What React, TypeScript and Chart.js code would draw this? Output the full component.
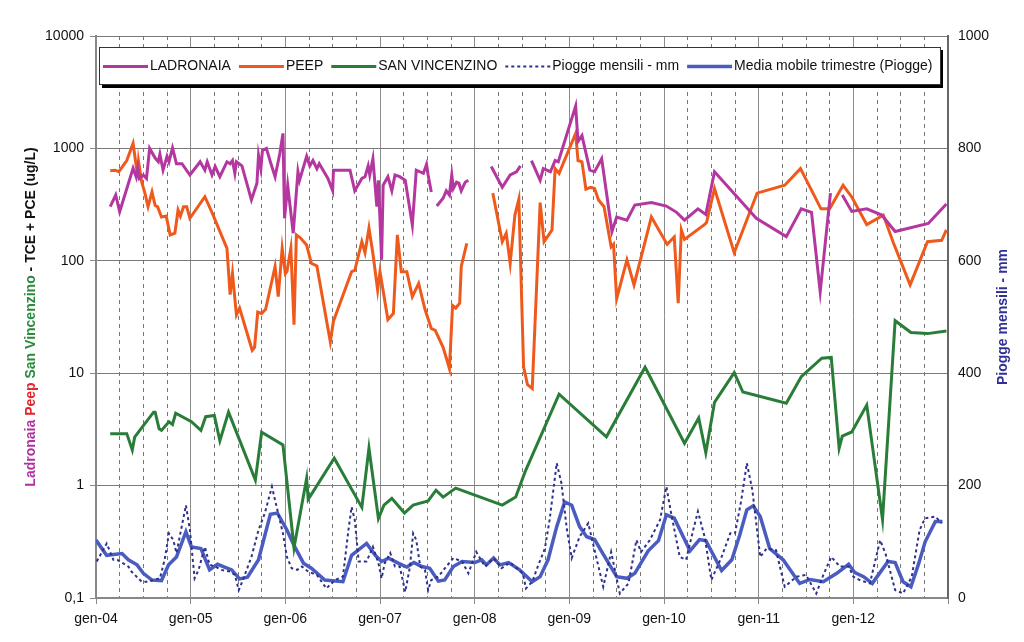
import React, { useEffect, useRef } from "react";
import { Chart, registerables } from "chart.js";

Chart.register(...registerables);

// x values are months since January 2004
const YEAR_LABELS = ["gen-04", "gen-05", "gen-06", "gen-07", "gen-08", "gen-09", "gen-10", "gen-11", "gen-12"];
const LEFT_TICKS = [0.1, 1, 10, 100, 1000, 10000];
const RIGHT_TICKS = [0, 200, 400, 600, 800, 1000];

type Pt = [number, number] | null;

const LADRONAIA: Pt[] = [
  [1.8, 303], [2.5, 385], [3.0, 273], [4.7, 665], [5.1, 556], [5.3, 670], [5.5, 540], [6.0, 580], [6.4, 540],
  [6.8, 1000], [7.5, 820], [7.9, 760], [8.1, 890], [8.5, 640], [9.0, 850], [9.25, 760], [9.7, 1010], [10.2, 730],
  [10.9, 730], [11.9, 580], [13.2, 760], [13.8, 640], [14.1, 760], [14.7, 580], [15.1, 690], [15.7, 560],
  [16.6, 760], [17.0, 730], [17.3, 780], [17.6, 600], [17.8, 760], [18.5, 700], [19.7, 348], [20.4, 490],
  [20.6, 870], [20.9, 660], [21.1, 960], [21.6, 1000], [22.1, 760], [22.7, 560], [23.3, 900], [23.7, 1360],
  [23.9, 239], [24.3, 470], [25.0, 176], [25.6, 620], [25.8, 520], [26.7, 850], [27.1, 700], [27.5, 780],
  [28.0, 660], [28.3, 730], [29.4, 540], [30.0, 420], [30.1, 640], [32.2, 640], [32.8, 420], [33.7, 540],
  [34.1, 560], [34.5, 700], [34.7, 580], [35.1, 810], [35.6, 303], [35.8, 520], [36.2, 102], [36.4, 470],
  [37.0, 560], [37.5, 420], [37.9, 580], [38.5, 560], [39.2, 520], [40.1, 208], [40.6, 640], [41.5, 600],
  [41.9, 720], [42.1, 580], [42.5, 410], null,
  [43.2, 307], [44.0, 360], [44.4, 420], [44.8, 385], [45.1, 580], [45.3, 440], [45.7, 500], [46.0, 490],
  [46.3, 420], [46.8, 500], [47.2, 520], null,
  [50.1, 690], [51.5, 451], [52.5, 580], [53.3, 620], [53.8, 700], null,
  [55.2, 780], [56.3, 520], [56.7, 660], [57.6, 620], [58.2, 780], [58.6, 760], [60.8, 2380], [61.1, 1150],
  [61.6, 1300], [62.6, 640], [63.2, 620], [64.1, 810], [65.4, 182], [66.0, 245], [67.3, 230], [68.3, 313],
  [70.4, 330], [72.3, 307], [73.6, 270], [74.6, 230], [76.3, 290], [77.3, 258], [78.4, 620], [83.7, 239],
  [87.5, 164], [89.4, 290], [90.7, 270], [91.8, 53], [93.1, 400], null,
  [94.6, 385], [95.8, 275], [97.7, 290], [99.6, 255], [101.3, 182], [105.5, 215], [107.8, 320],
];

const PEEP: Pt[] = [
  [1.8, 634], [2.4, 640], [2.9, 620], [3.9, 780], [4.7, 1110], [5.0, 780], [5.3, 560], [5.4, 760], [5.8, 500],
  [6.2, 400], [6.6, 303], [7.1, 410], [7.5, 310], [7.8, 303], [8.3, 245], [8.9, 250], [9.4, 170], [10.0, 176],
  [10.4, 283], [10.7, 250], [11.1, 303], [11.5, 303], [11.9, 239], [13.8, 372], [14.7, 270], [16.6, 129],
  [17.0, 50], [17.3, 77], [17.8, 33], [18.2, 38], [19.8, 16], [20.1, 17], [20.5, 35], [21.0, 34], [21.5, 37],
  [22.7, 89], [23.1, 48], [23.6, 129], [24.0, 77], [24.2, 80], [24.7, 129], [25.1, 27], [25.4, 170], [25.9, 160],
  [26.7, 138], [27.3, 95], [28.0, 90], [29.7, 19], [30.1, 29], [32.4, 80], [32.8, 82], [33.7, 148], [34.1, 118],
  [34.6, 195], [35.1, 116], [35.7, 55], [36.0, 80], [37.0, 30], [37.7, 34], [38.2, 170], [38.7, 80], [39.4, 80],
  [40.1, 48], [40.9, 63], [41.7, 37], [42.5, 25], [43.0, 24], [44.0, 17], [44.8, 11], [45.2, 40], [45.6, 38],
  [46.1, 42], [46.3, 89], [47.0, 143], null,
  [50.3, 400], [51.5, 148], [52.0, 176], [52.5, 95], [53.1, 255], [53.6, 353], [54.2, 11.4], [54.7, 7.9],
  [55.3, 7.3], [56.3, 329], [56.8, 148], [57.8, 188], [58.2, 660], [58.7, 600], [60.8, 1360], [61.1, 780],
  [61.6, 760], [62.1, 433], [62.7, 450], [63.2, 440], [63.7, 348], [64.4, 303], [65.3, 133], [65.6, 140],
  [66.0, 46], [67.3, 102], [68.2, 61], [70.4, 245], [72.4, 140], [73.3, 163], [73.8, 42], [74.2, 188],
  [74.6, 155], [77.2, 212], [77.4, 220], [78.4, 440], [80.9, 118], [83.8, 400], [87.3, 470], [89.3, 660],
  [91.9, 290], [93.0, 290], [94.7, 470], [95.8, 370], [97.7, 210], [99.8, 255], [101.1, 143], [103.2, 61],
  [105.4, 148], [107.2, 152], [107.8, 188],
];

const SAN_VINCENZINO: Pt[] = [
  [1.8, 2.9], [3.9, 2.9], [4.6, 2.07], [4.9, 2.7], [7.3, 4.5], [7.5, 4.5], [8.0, 3.2], [8.3, 3.1], [9.25, 3.7],
  [9.7, 3.5], [10.1, 4.4], [12.1, 3.7], [13.3, 3.1], [13.9, 4.1], [15.0, 4.2], [15.7, 2.5], [16.8, 4.5],
  [20.2, 1.12], [21.0, 2.99], [23.7, 2.3], [25.1, 0.28], [26.7, 1.16], [26.9, 0.755], [30.2, 1.75],
  [33.7, 0.64], [34.6, 2.15], [35.8, 0.51], [36.5, 0.67], [37.5, 0.77], [39.1, 0.57], [40.2, 0.67],
  [42.1, 0.73], [43.1, 0.91], [44.0, 0.79], [45.6, 0.95], [51.5, 0.67], [53.2, 0.79], [54.4, 1.33],
  [58.7, 6.5], [64.7, 2.72], [69.6, 11.3], [74.6, 2.38], [76.4, 4.0], [77.3, 1.96], [78.4, 5.5], [80.9, 10.1],
  [82.0, 6.8], [87.5, 5.4], [89.4, 9.3], [92.0, 13.6], [93.2, 13.8], [94.2, 2.15], [94.6, 2.76], [95.8, 3.0],
  [97.7, 5.2], [99.7, 0.5], [101.3, 29.3], [103.3, 23], [105.4, 22.5], [107.8, 23.7],
];

const PIOGGE_MENSILI: Pt[] = [
  [0.1, 65], [1.35, 97], [2.2, 68], [2.7, 68], [4.1, 56], [4.5, 47], [5.8, 29], [6.6, 29], [7.3, 32], [8.1, 35],
  [8.7, 68], [9.25, 115], [9.8, 103], [10.2, 80], [11.4, 165], [11.9, 121], [12.5, 35], [13.0, 50], [13.8, 91],
  [14.4, 59], [15.1, 56], [15.9, 50], [17.0, 47], [17.6, 41], [18.1, 14], [18.7, 35], [19.7, 73], [20.6, 121],
  [21.4, 151], [22.3, 198], [22.9, 162], [23.7, 115], [24.2, 73], [24.8, 53], [25.5, 50], [26.1, 56],
  [26.9, 47], [28.0, 41], [29.2, 17], [30.3, 32], [31.3, 38], [32.0, 121], [32.4, 162], [32.8, 139], [33.3, 65],
  [34.3, 65], [35.1, 91], [35.8, 62], [36.2, 35], [36.6, 62], [37.3, 80], [37.9, 56], [38.5, 56], [39.2, 11],
  [39.8, 56], [40.2, 115], [40.6, 103], [41.1, 56], [41.7, 50], [42.1, 14], [42.5, 32], [43.4, 38], [44.4, 56],
  [45.3, 71], [46.4, 65], [47.2, 44], [48.2, 82], [49.3, 56], [50.4, 71], [51.4, 53], [52.5, 63], [54.1, 44],
  [54.5, 17], [55.3, 29], [56.0, 56], [56.9, 88], [57.5, 139], [58.4, 240], [59.0, 204], [59.7, 121],
  [60.3, 71], [61.3, 109], [62.4, 133], [63.0, 97], [64.3, 20], [65.3, 82], [66.4, 8], [67.5, 26], [68.5, 103],
  [69.1, 82], [70.2, 103], [71.5, 139], [72.3, 198], [72.9, 151], [74.0, 73], [74.8, 68], [75.7, 121],
  [76.3, 154], [77.2, 106], [78.0, 32], [79.3, 73], [80.4, 115], [81.0, 115], [81.8, 174], [82.5, 240],
  [83.2, 192], [84.2, 73], [85.0, 88], [86.2, 85], [87.3, 20], [88.8, 38], [90.0, 41], [91.3, 8], [92.2, 41],
  [93.2, 73], [94.3, 56], [95.4, 56], [96.0, 38], [96.8, 32], [98.1, 26], [99.4, 103], [100.1, 78],
  [101.3, 14], [102.3, 8], [103.4, 38], [104.4, 121], [105.1, 142], [106.4, 145], [107.2, 133],
];

const MEDIA_MOBILE: Pt[] = [
  [0, 103], [1.35, 76], [3.3, 79], [4.1, 68], [5.2, 59], [6.0, 44], [7.1, 32], [8.3, 31], [9.2, 59], [10.2, 73],
  [11.4, 118], [12.1, 91], [13.3, 88], [14.4, 50], [15.4, 60], [17.2, 50], [18.2, 34], [19.2, 37], [20.6, 68],
  [22.1, 149], [23.0, 151], [24.2, 121], [25.2, 91], [26.3, 62], [27.3, 53], [29.0, 32], [31.3, 29], [32.4, 76],
  [34.3, 97], [35.4, 76], [36.2, 65], [37.1, 71], [38.3, 62], [39.4, 55], [40.3, 63], [41.3, 56], [42.3, 53],
  [43.4, 30], [44.2, 32], [45.3, 56], [46.4, 65], [48.0, 63], [48.9, 68], [49.5, 59], [50.4, 71], [51.2, 59],
  [52.3, 63], [53.7, 50], [55.3, 29], [56.3, 38], [57.3, 68], [58.4, 127], [59.4, 171], [60.3, 165],
  [61.3, 127], [62.2, 109], [63.2, 104], [64.5, 73], [66.0, 38], [67.3, 35], [68.3, 44], [70.0, 84],
  [71.3, 102], [72.3, 148], [73.3, 142], [75.3, 84], [76.5, 104], [77.3, 102], [79.3, 49], [80.6, 68],
  [81.6, 112], [82.5, 157], [83.3, 164], [84.2, 145], [85.4, 88], [87.1, 68], [89.2, 26], [90.5, 33],
  [92.2, 29], [93.9, 44], [95.4, 60], [96.2, 45], [97.3, 38], [98.4, 26], [100.4, 65], [101.3, 63],
  [102.3, 29], [103.3, 20], [104.3, 62], [105.1, 100], [106.4, 136], [107.3, 136],
];

const FONT = "'Liberation Sans', Arial, Helvetica, sans-serif";

function toXY(arr: Pt[]) {
  const out: { x: number; y: number | null }[] = [];
  for (let i = 0; i < arr.length; i++) {
    const p = arr[i];
    if (p) out.push({ x: p[0], y: p[1] });
    else {
      const prev = arr[i - 1] as [number, number];
      out.push({ x: prev[0] + 0.05, y: null });
    }
  }
  return out;
}

const boxLegendPlugin = {
  id: "boxLegend",
  afterDraw(chart: any) {
    const ctx = chart.ctx as CanvasRenderingContext2D;
    const ca = chart.chartArea;
    const x0 = ca.left + 3;
    const y0 = ca.top + 11;
    const w = ca.right - ca.left - 11;
    const h = 37;
    ctx.save();
    ctx.fillStyle = "#000";
    ctx.fillRect(x0 + 3, y0 + 3, w, h + 1);
    ctx.fillStyle = "#fff";
    ctx.fillRect(x0, y0, w, h);
    ctx.strokeStyle = "#333";
    ctx.lineWidth = 1;
    ctx.strokeRect(x0 + 0.5, y0 + 0.5, w, h);
    ctx.font = `14px ${FONT}`;
    ctx.textBaseline = "middle";
    let x = x0 + 4;
    const cy = y0 + h / 2 + 1;
    chart.data.datasets.forEach((ds: any) => {
      ctx.save();
      ctx.strokeStyle = ds.borderColor;
      ctx.lineWidth = ds.borderWidth;
      ctx.setLineDash(ds.borderDash || []);
      ctx.beginPath();
      ctx.moveTo(x, cy);
      ctx.lineTo(x + 45, cy);
      ctx.stroke();
      ctx.restore();
      x += 47;
      ctx.fillStyle = "#111";
      ctx.fillText(ds.label, x, cy);
      x += ctx.measureText(ds.label).width + 8;
    });
    ctx.restore();
  },
};

const titlesPlugin = {
  id: "axisTitles",
  afterDraw(chart: any) {
    const ctx = chart.ctx as CanvasRenderingContext2D;
    const ca = chart.chartArea;
    const cy = (ca.top + ca.bottom) / 2;
    ctx.save();
    ctx.font = `bold 14px ${FONT}`;
    ctx.textBaseline = "middle";
    const parts: [string, string][] = [
      ["Ladronaia ", "#b0319e"],
      ["Peep ", "#e3222c"],
      ["San Vincenzino", "#2b8a3c"],
      [" - TCE + PCE (ug/L)", "#111"],
    ];
    const total = parts.reduce((s, p) => s + ctx.measureText(p[0]).width, 0);
    ctx.translate(31, cy);
    ctx.rotate(-Math.PI / 2);
    let x = -total / 2;
    parts.forEach(([t, c]) => {
      ctx.fillStyle = c;
      ctx.fillText(t, x, 0);
      x += ctx.measureText(t).width;
    });
    ctx.restore();

    ctx.save();
    ctx.font = `bold 14px ${FONT}`;
    ctx.textBaseline = "middle";
    ctx.textAlign = "center";
    ctx.fillStyle = "#2f2f95";
    ctx.translate(1003, cy);
    ctx.rotate(-Math.PI / 2);
    ctx.fillText("Piogge mensili - mm", 0, 0);
    ctx.restore();
  },
};

export default function App() {
  const ref = useRef<HTMLCanvasElement | null>(null);

  useEffect(() => {
    document.body.style.margin = "0";
    const canvas = ref.current;
    if (!canvas) return;
    const chart = new Chart(canvas, {
      type: "line",
      data: {
        datasets: [
          {
            label: "LADRONAIA",
            data: toXY(LADRONAIA),
            borderColor: "#b4379f",
            borderWidth: 3,
            yAxisID: "y",
          },
          {
            label: "PEEP",
            data: toXY(PEEP),
            borderColor: "#ef5a1c",
            borderWidth: 3,
            yAxisID: "y",
          },
          {
            label: "SAN VINCENZINO",
            data: toXY(SAN_VINCENZINO),
            borderColor: "#2a7d39",
            borderWidth: 3,
            yAxisID: "y",
          },
          {
            label: "Piogge mensili - mm",
            data: toXY(PIOGGE_MENSILI),
            borderColor: "#2d318c",
            borderWidth: 2,
            borderDash: [3, 3],
            yAxisID: "y2",
          },
          {
            label: "Media mobile trimestre (Piogge)",
            data: toXY(MEDIA_MOBILE),
            borderColor: "#4a5cc0",
            borderWidth: 3.5,
            yAxisID: "y2",
          },
        ] as any,
      },
      options: {
        animation: false,
        responsive: false,
        spanGaps: false,
        layout: { padding: { top: 36, left: 0, right: 0, bottom: 0 } },
        elements: { point: { radius: 0, hoverRadius: 0 }, line: { tension: 0 } },
        plugins: { legend: { display: false }, tooltip: { enabled: false } },
        scales: {
          x: {
            type: "linear",
            min: 0,
            max: 108,
            afterBuildTicks: (s: any) => {
              const t = [];
              for (let v = 0; v <= 108; v += 3) t.push({ value: v });
              s.ticks = t;
            },
            afterFit: (s: any) => {
              s.height = 44;
            },
            ticks: {
              autoSkip: false,
              maxRotation: 0,
              padding: 7,
              color: "#111",
              font: { family: FONT, size: 14 },
              callback: (v: any) => (v % 12 === 0 && v < 108 ? YEAR_LABELS[v / 12] : ""),
            },
            grid: {
              color: (c: any) => (c.tick && c.tick.value % 12 === 0 ? "#8c8c8c" : "#777"),
              lineWidth: 1,
              tickLength: 6,
              tickColor: (c: any) => (c.tick && c.tick.value % 12 === 0 ? "#888" : "rgba(0,0,0,0)"),
            },
            border: {
              color: "#888",
              width: 2,
              dash: (c: any) => (c.tick && c.tick.value % 12 !== 0 ? [4, 4] : []),
            } as any,
          },
          y: {
            type: "logarithmic",
            position: "left",
            min: 0.1,
            max: 10000,
            afterBuildTicks: (s: any) => {
              s.ticks = LEFT_TICKS.map((v) => ({ value: v }));
            },
            afterFit: (s: any) => {
              s.width = 96;
            },
            ticks: {
              padding: 6,
              color: "#111",
              font: { family: FONT, size: 14 },
              callback: (v: any) => (v === 0.1 ? "0,1" : String(v)),
            },
            grid: { color: "#7a7a7a", lineWidth: 1, tickLength: 6, tickColor: "#888" },
            border: { color: "#888", width: 2 },
          },
          y2: {
            type: "linear",
            position: "right",
            min: 0,
            max: 1000,
            afterBuildTicks: (s: any) => {
              s.ticks = RIGHT_TICKS.map((v) => ({ value: v }));
            },
            afterFit: (s: any) => {
              s.width = 76;
            },
            ticks: {
              padding: 10,
              color: "#111",
              font: { family: FONT, size: 14 },
              callback: (v: any) => String(v),
            },
            grid: { drawOnChartArea: false, drawTicks: false },
            border: { color: "#666", width: 2 },
          },
        },
      } as any,
      plugins: [titlesPlugin, boxLegendPlugin],
    });
    return () => chart.destroy();
  }, []);

  return (
    <div style={{ position: "absolute", left: 0, top: 0, width: 1024, height: 642, background: "#fff" }}>
      <canvas ref={ref} width={1024} height={642} />
    </div>
  );
}
